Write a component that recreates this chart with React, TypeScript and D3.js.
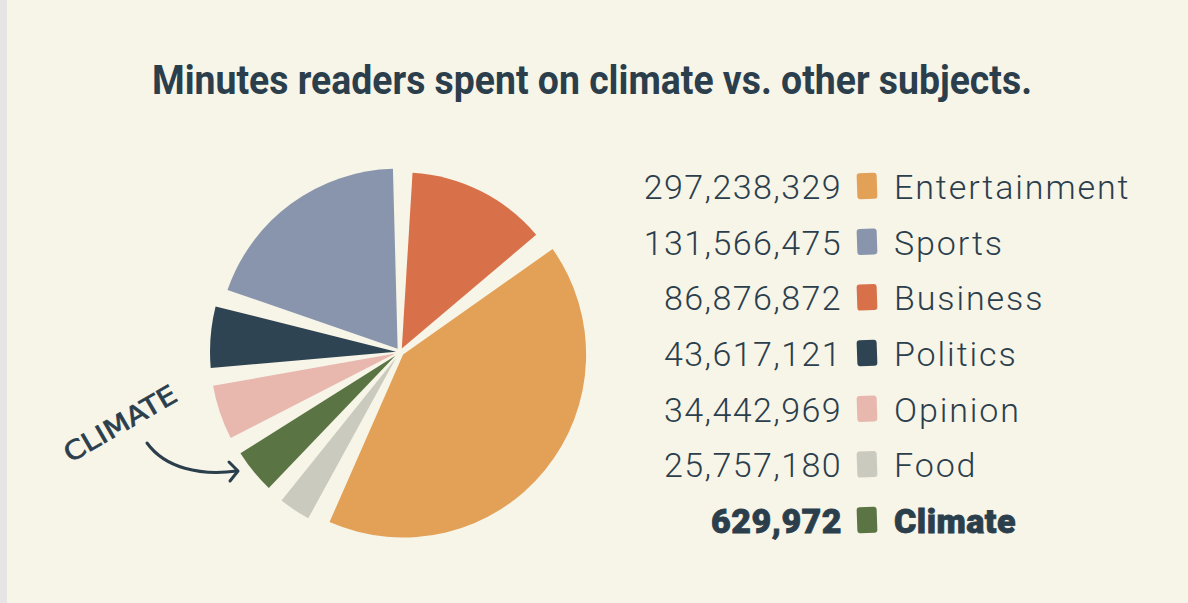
import React from 'react';
import * as d3 from 'd3';

const title = 'Minutes readers spent on climate vs. other subjects.';
const categories = ['Entertainment', 'Sports', 'Business', 'Politics', 'Opinion', 'Food', 'Climate'];
const minutes = [297238329, 131566475, 86876872, 43617121, 34442969, 25757180, 629972];
const palette = ['#E3A157', '#8895AC', '#D8714A', '#2E4452', '#E8B8AF', '#CBCABF', '#5A7443'];
// Pie as drawn in the picture: clockwise from 12 o'clock; visible slice widths (degrees)
const pieOrder = ['Business', 'Entertainment', 'Food', 'Climate', 'Opinion', 'Politics', 'Sports'];
const drawnDegrees = [46, 148, 10, 14, 17, 19, 69];
const highlight = 'Climate';
const annotation = 'CLIMATE';

const W = 1188;
const H = 603;
const INK = '#2B3E4C';

export default function App() {
  const color = d3.scaleOrdinal<string, string>().domain(categories).range(palette);
  const cx = 400;
  const cy = 352;
  const radius: Record<string, number> = {
    Business: 176,
    Entertainment: 183,
    Food: 183,
    Climate: 183,
    Opinion: 185,
    Politics: 186,
    Sports: 180,
  };
  const explode: Record<string, number> = {
    Business: 4, Entertainment: 4, Food: 7, Climate: 6, Opinion: 5, Politics: 4, Sports: 4,
  };

  const pieData = pieOrder.map((c, i) => ({ cat: c, w: drawnDegrees[i] }));
  const deg = Math.PI / 180;
  const pie = d3
    .pie<{ cat: string; w: number }>()
    .sort(null)
    .value((d) => d.w)
    .startAngle(1 * deg)
    .endAngle(361 * deg)
    .padAngle(5 * deg);
  const arcs = pie(pieData);

  const legendY = d3.scaleLinear().domain([0, categories.length - 1]).range([199, 533]);
  const fmt = d3.format(',');

  return (
    <svg
      width={W}
      height={H}
      viewBox={`0 0 ${W} ${H}`}
      style={{ position: 'absolute', left: 0, top: 0, display: 'block' }}
    >
      <rect x={0} y={0} width={W} height={H} fill="#F7F4E8" />
      <rect x={0} y={0} width={7} height={H} fill="#E6E4E5" />

      <text
        x={592}
        y={94}
        textAnchor="middle"
        fontFamily="Roboto, 'Noto Sans', sans-serif"
        fontWeight={700}
        fontSize={41}
        fill={INK}
        textLength={880}
        lengthAdjust="spacingAndGlyphs"
      >
        {title}
      </text>

      <g transform={`translate(${cx},${cy})`}>
        {arcs.map((a) => {
          const r = radius[a.data.cat];
          const arcGen = d3.arc<d3.PieArcDatum<{ cat: string; w: number }>>()
            .innerRadius(0)
            .outerRadius(r)
            .padRadius(r);
          const mid = (a.startAngle + a.endAngle) / 2;
          const off = explode[a.data.cat];
          const dx = Math.sin(mid) * off;
          const dy = -Math.cos(mid) * off;
          return (
            <path
              key={a.data.cat}
              d={arcGen(a) || ''}
              transform={`translate(${dx},${dy})`}
              fill={color(a.data.cat)}
            />
          );
        })}
      </g>

      <g>
        <text
          transform="translate(121,425) rotate(-30)"
          textAnchor="middle"
          fontFamily="'DejaVu Sans', sans-serif"
          fontSize={26}
          fill={INK}
          stroke={INK}
          strokeWidth={0.7}
          textLength={126}
          lengthAdjust="spacingAndGlyphs"
          dominantBaseline="middle"
        >
          {annotation}
        </text>
        <path
          d="M147,443 C165,468 200,476 237,471"
          fill="none"
          stroke={INK}
          strokeWidth={3}
          strokeLinecap="round"
        />
        <path
          d="M229,462 L238,471 L230,481"
          fill="none"
          stroke={INK}
          strokeWidth={3}
          strokeLinecap="round"
          strokeLinejoin="round"
        />
      </g>

      <g>
        {categories.map((c, i) => {
          const y = legendY(i);
          const bold = c === highlight;
          return (
            <g key={c}>
              <text
                x={842}
                y={y}
                textAnchor="end"
                fontFamily="Roboto, 'Noto Sans', sans-serif"
                fontWeight={bold ? 900 : 300}
                fontSize={34}
                letterSpacing={bold ? 0.5 : 1.4}
                fill={INK}
                stroke={bold ? INK : 'none'}
                strokeWidth={bold ? 0.8 : 0}
              >
                {fmt(minutes[i])}
              </text>
              <rect
                x={857}
                y={y - 26}
                width={20}
                height={26}
                rx={3}
                fill={color(c)}
                transform={`rotate(-2 867 ${y - 13})`}
              />
              <text
                x={894}
                y={y}
                fontFamily="Roboto, 'Noto Sans', sans-serif"
                fontWeight={bold ? 900 : 300}
                fontSize={34}
                letterSpacing={bold ? 0.5 : 1.9}
                fill={INK}
                stroke={bold ? INK : 'none'}
                strokeWidth={bold ? 0.8 : 0}
              >
                {c}
              </text>
            </g>
          );
        })}
      </g>
    </svg>
  );
}
